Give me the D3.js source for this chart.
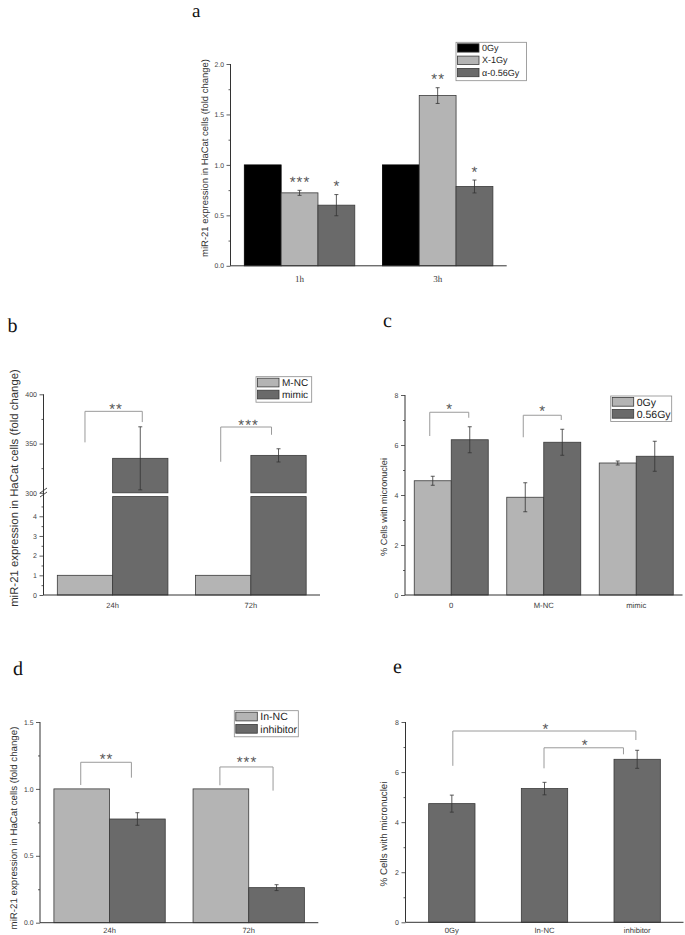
<!DOCTYPE html>
<html><head><meta charset="utf-8">
<script src="https://cdn.jsdelivr.net/npm/d3@7"></script>
<style>body{margin:0;background:#fff}svg{display:block}text{text-rendering:geometricPrecision}</style>
</head><body>
<script>
// ================= DATA =================
// Panel a
const aCategories = ["1h", "3h"];
const aSeriesNames = ["0Gy", "X-1Gy", "α-0.56Gy"];
const a0Gy = [1.0, 1.0];
const aX1Gy = [0.723, 1.687];
const aX1GyErr = [0.025, 0.078];
const aX1GyStars = ["***", "**"];
const aAlpha = [0.601, 0.786];
const aAlphaErr = [0.105, 0.064];
const aAlphaStars = ["*", "*"];
const aYTicks = [0, 0.5, 1.0, 1.5, 2.0];
const aYMinor = [0.25, 0.75, 1.25, 1.75];
const aYTitle = "miR-21 expression in HaCat cells (fold change)";

// Panel b (broken axis)
const bCategories = ["24h", "72h"];
const bSeriesNames = ["M-NC", "mimic"];
const bMNC = [1, 1];
const bMimic = [335, 338];
const bMimicErr = [32, 6.7];
const bStars = ["**", "***"];
const bLowerTicks = [0, 1, 2, 3, 4];
const bLowerMinor = [0.5, 1.5, 2.5, 3.5, 4.5];
const bUpperTicks = [300, 350, 400];
const bUpperMinor = [325, 375];
const bYTitle = "miR-21 expression in HaCat cells (fold change)";

// Panel c
const cCategories = ["0", "M-NC", "mimic"];
const cSeriesNames = ["0Gy", "0.56Gy"];
const c0Gy = [4.57, 3.91, 5.28];
const c0GyErr = [0.18, 0.58, 0.08];
const c056Gy = [6.21, 6.11, 5.55];
const c056GyErr = [0.52, 0.52, 0.60];
const cStars = ["*", "*", ""];
const cYTicks = [0, 2, 4, 6, 8];
const cYMinor = [1, 3, 5, 7];
const cYTitle = "% Cells with micronuclei";

// Panel d
const dCategories = ["24h", "72h"];
const dSeriesNames = ["In-NC", "inhibitor"];
const dInNC = [1, 1];
const dInhibitor = [0.775, 0.262];
const dInhibitorErr = [0.047, 0.022];
const dStars = ["**", "***"];
const dYTicks = [0, 0.5, 1.0, 1.5];
const dYMinor = [0.25, 0.75, 1.25];
const dYTitle = "miR-21 expression in HaCat cells (fold change)";

// Panel e
const eCategories = ["0Gy", "In-NC", "inhibitor"];
const eValues = [4.74, 5.34, 6.51];
const eErr = [0.34, 0.25, 0.36];
const eComparisons = [["0Gy", "inhibitor", "*"], ["In-NC", "inhibitor", "*"]];
const eYTicks = [0, 2, 4, 6, 8];
const eYMinor = [1, 3, 5, 7];
const eYTitle = "% Cells with micronuclei";

// ================= STYLE / LAYOUT =================
const SANS = "'Liberation Sans', Arial, sans-serif";
const SERIF = "'Liberation Serif', 'Times New Roman', serif";
const COL = {black: "#000", light: "#b4b4b4", dark: "#6a6a6a", axis: "#333", text: "#444",
             bracket: "#9a9a9a", star: "#555", outline: "#3a3a3a"};

const svg = d3.select("body").append("svg")
  .attr("width", 685).attr("height", 935)
  .style("font-family", SANS);

function yAxis(scale, x, major, minor, fmt, fs) {
  const g = svg.append("g").attr("transform", `translate(${x},0)`)
    .call(d3.axisLeft(scale).tickValues(major).tickSize(4).tickSizeOuter(0).tickPadding(2.5).tickFormat(fmt));
  g.select(".domain").remove();
  g.selectAll("line").attr("stroke", COL.axis).attr("stroke-width", 0.8);
  g.selectAll("text").attr("font-size", fs).attr("fill", COL.text).attr("font-family", SANS);
  const gm = svg.append("g").attr("transform", `translate(${x},0)`)
    .call(d3.axisLeft(scale).tickValues(minor).tickSize(2).tickSizeOuter(0).tickFormat(""));
  gm.select(".domain").remove();
  gm.selectAll("line").attr("stroke", COL.axis).attr("stroke-width", 0.8);
}
function axesLines(x0, x1, yTop, yBottom) {
  svg.append("line").attr("x1", x0).attr("x2", x0).attr("y1", yTop).attr("y2", yBottom)
    .attr("stroke", COL.axis).attr("stroke-width", 1);
  svg.append("line").attr("x1", x0).attr("x2", x1).attr("y1", yBottom).attr("y2", yBottom)
    .attr("stroke", COL.axis).attr("stroke-width", 1);
}
function yTitle(txt, xc, cy, len) {
  const fs0 = 10;
  const t = svg.append("text").attr("text-anchor", "middle").attr("fill", "#333")
    .attr("font-size", fs0).text(txt);
  const L = t.node().getComputedTextLength();
  const fs = fs0 * len / L;
  t.attr("font-size", fs).attr("transform", `translate(${xc + 0.36 * fs},${cy}) rotate(-90)`);
}
function panelLetter(ch, x, y, fs) {
  svg.append("text").attr("x", x).attr("y", y).attr("font-family", SERIF)
    .attr("font-size", fs || 20).attr("fill", "#111").text(ch);
}
function xLabels(scale, cats, y, fs, family) {
  svg.append("g").selectAll("text").data(cats).join("text")
    .attr("x", d => scale(d)).attr("y", y).attr("text-anchor", "middle")
    .attr("font-size", fs).attr("font-family", family).attr("fill", "#3a3a3a").text(d => d);
}
function errBar(x, yHi, yLo, cap) {
  const g = svg.append("g").attr("stroke", "#333").attr("stroke-width", 0.8);
  g.append("line").attr("x1", x).attr("x2", x).attr("y1", yHi).attr("y2", yLo);
  g.append("line").attr("x1", x - cap).attr("x2", x + cap).attr("y1", yHi).attr("y2", yHi);
  g.append("line").attr("x1", x - cap).attr("x2", x + cap).attr("y1", yLo).attr("y2", yLo);
}
function stars(txt, x, cy, fs) {
  if (!txt) return;
  const ls = 1;
  svg.append("text").attr("x", x + ls / 2).attr("y", cy + 0.575 * fs).attr("text-anchor", "middle")
    .attr("font-size", fs).attr("letter-spacing", ls).attr("fill", COL.star).text(txt);
}
function bracket(xl, xr, yTop, yLeft, yRight) {
  svg.append("path").attr("d", `M${xl},${yLeft}V${yTop}H${xr}V${yRight}`)
    .attr("fill", "none").attr("stroke", COL.bracket).attr("stroke-width", 1);
}
function legend(x, y, w, rows, pitch, swW, swH, fs) {
  const h = rows.length * pitch + 1.5;
  svg.append("rect").attr("x", x).attr("y", y).attr("width", w).attr("height", h)
    .attr("fill", "#fff").attr("stroke", "#8a8a8a").attr("stroke-width", 0.8);
  const g = svg.append("g").selectAll("g").data(rows).join("g")
    .attr("transform", (d, i) => `translate(${x + 1.5},${y + 1.5 + i * pitch})`);
  g.append("rect").attr("width", swW).attr("height", swH).attr("fill", d => d.color)
    .attr("stroke", COL.outline).attr("stroke-width", 0.8);
  g.append("text").attr("x", swW + 3).attr("y", swH / 2 + fs * 0.36).attr("font-size", fs)
    .attr("fill", "#222").text(d => d.name);
}
const STAR_FS = 15;

// ================= PANEL a =================
{
  const x0 = 230.5, x1 = 506.7, yB = 265.8, yT = 64;
  const y = d3.scaleLinear().domain([0, 2]).range([yB, yT]);
  const xc = d3.scalePoint().domain(aCategories).range([x0, x1]).padding(0.5);
  const gw = xc.step() * 0.8;
  const xs = d3.scaleBand().domain(aSeriesNames).range([-gw / 2, gw / 2]);
  const series = [
    {name: aSeriesNames[0], vals: a0Gy, err: null, st: null, color: COL.black},
    {name: aSeriesNames[1], vals: aX1Gy, err: aX1GyErr, st: aX1GyStars, color: COL.light},
    {name: aSeriesNames[2], vals: aAlpha, err: aAlphaErr, st: aAlphaStars, color: COL.dark}
  ];
  series.forEach(s => {
    aCategories.forEach((c, i) => {
      const bx = xc(c) + xs(s.name), v = s.vals[i];
      svg.append("rect").attr("x", bx).attr("y", y(v)).attr("width", xs.bandwidth())
        .attr("height", y(0) - y(v)).attr("fill", s.color)
        .attr("stroke", s.color === COL.black ? "#000" : COL.outline).attr("stroke-width", 0.8);
      if (s.err) {
        const cx = bx + xs.bandwidth() / 2;
        errBar(cx, y(v + s.err[i]), y(v - s.err[i]), 2);
        stars(s.st[i], cx, y(v + s.err[i]) - 12, STAR_FS);
      }
    });
  });
  axesLines(x0, x1, yT, yB);
  yAxis(y, x0, aYTicks, aYMinor, d3.format(".1f"), 6.8);
  xLabels(xc, aCategories, 281.5, 9, SERIF);
  yTitle(aYTitle, 205, 158, 198);
  legend(456, 42.3, 70.5, series, 12.3, 21.5, 8.3, 9);
  panelLetter("a", 192, 16.5, 19);
}

// ================= PANEL b =================
{
  const x0 = 43.5, x1 = 320, yB = 595;
  const yLo = d3.scaleLinear().domain([0, 5]).range([yB, 496.6]);
  const yHi = d3.scaleLinear().domain([300, 400]).range([492.8, 394.3]);
  const xc = d3.scalePoint().domain(bCategories).range([x0, x1]).padding(0.5);
  const gw = xc.step() * 0.8;
  const xs = d3.scaleBand().domain(bSeriesNames).range([-gw / 2, gw / 2]);
  const series = [
    {name: bSeriesNames[0], vals: bMNC, err: null, color: COL.light},
    {name: bSeriesNames[1], vals: bMimic, err: bMimicErr, color: COL.dark}
  ];
  series.forEach(s => {
    bCategories.forEach((c, i) => {
      const bx = xc(c) + xs(s.name), v = s.vals[i], bw = xs.bandwidth();
      if (v <= 5) {
        svg.append("rect").attr("x", bx).attr("y", yLo(v)).attr("width", bw)
          .attr("height", yLo(0) - yLo(v)).attr("fill", s.color).attr("stroke", COL.outline).attr("stroke-width", 0.8);
      } else {
        svg.append("rect").attr("x", bx).attr("y", yLo(5)).attr("width", bw)
          .attr("height", yLo(0) - yLo(5)).attr("fill", s.color).attr("stroke", COL.outline).attr("stroke-width", 0.8);
        svg.append("rect").attr("x", bx).attr("y", yHi(v)).attr("width", bw)
          .attr("height", yHi(300) - yHi(v)).attr("fill", s.color).attr("stroke", COL.outline).attr("stroke-width", 0.8);
        if (s.err) errBar(bx + bw / 2, yHi(v + s.err[i]), yHi(v - s.err[i]), 2);
      }
    });
  });
  // brackets (levels in data units of the upper segment)
  const bBr = [{top: 382.7, l: 351.2, r: 371.8, st: 388.4, dl: 0, dr: 2},
               {top: 366.8, l: 331.5, r: 358.9, st: 372.9, dl: -2.5, dr: -7}];
  bCategories.forEach((c, i) => {
    const xl = xc(c) + xs(bSeriesNames[0]) + xs.bandwidth() / 2 + bBr[i].dl;
    const xr = xc(c) + xs(bSeriesNames[1]) + xs.bandwidth() / 2 + bBr[i].dr;
    bracket(xl, xr, yHi(bBr[i].top), yHi(bBr[i].l), yHi(bBr[i].r));
    stars(bStars[i], (xl + xr) / 2 + 2, yHi(bBr[i].st), STAR_FS);
  });
  axesLines(x0, x1, yHi(400), yB);
  yAxis(yLo, x0, bLowerTicks, bLowerMinor, d3.format("d"), 7);
  yAxis(yHi, x0, bUpperTicks, bUpperMinor, d3.format("d"), 7);
  // break marks
  [490.5, 494.5].forEach(yy => {
    svg.append("line").attr("x1", x0 - 3.5).attr("x2", x0 + 3.5).attr("y1", yy + 2.5).attr("y2", yy - 2.5)
      .attr("stroke", COL.axis).attr("stroke-width", 0.9);
  });
  xLabels(xc, bCategories, 607.5, 7.5, SANS);
  yTitle(bYTitle, 13.5, 488, 238);
  legend(256, 376.7, 55.7, series.map(s => ({name: s.name, color: s.color})), 12, 21.5, 8.7, 10);
  panelLetter("b", 7.5, 331.7);
}

// ================= PANEL c =================
{
  const x0 = 405, x1 = 682.5, yB = 595, yT = 395;
  const y = d3.scaleLinear().domain([0, 8]).range([yB, yT]);
  const xc = d3.scalePoint().domain(cCategories).range([x0, x1]).padding(0.5);
  const gw = xc.step() * 0.8;
  const xs = d3.scaleBand().domain(cSeriesNames).range([-gw / 2, gw / 2]);
  const series = [
    {name: cSeriesNames[0], vals: c0Gy, err: c0GyErr, color: COL.light},
    {name: cSeriesNames[1], vals: c056Gy, err: c056GyErr, color: COL.dark}
  ];
  series.forEach(s => {
    cCategories.forEach((c, i) => {
      const bx = xc(c) + xs(s.name), v = s.vals[i], bw = xs.bandwidth();
      svg.append("rect").attr("x", bx).attr("y", y(v)).attr("width", bw)
        .attr("height", y(0) - y(v)).attr("fill", s.color).attr("stroke", COL.outline).attr("stroke-width", 0.8);
      errBar(bx + bw / 2, y(v + s.err[i]), y(v - s.err[i]), 2);
    });
  });
  const cBr = [{top: 7.31, l: 6.36, r: 7.09, st: 7.6, dl: -3, dr: -1},
               {top: 7.19, l: 6.31, r: 7.0, st: 7.49, dl: -2, dr: -1}];
  cCategories.forEach((c, i) => {
    if (!cStars[i]) return;
    const xl = xc(c) + xs(cSeriesNames[0]) + xs.bandwidth() / 2 + cBr[i].dl;
    const xr = xc(c) + xs(cSeriesNames[1]) + xs.bandwidth() / 2 + cBr[i].dr;
    bracket(xl, xr, y(cBr[i].top), y(cBr[i].l), y(cBr[i].r));
    stars(cStars[i], (xl + xr) / 2, y(cBr[i].st), STAR_FS);
  });
  axesLines(x0, x1, yT, yB);
  yAxis(y, x0, cYTicks, cYMinor, d3.format("d"), 7);
  xLabels(xc, cCategories, 607.5, 7.7, SANS);
  yTitle(cYTitle, 383.5, 507, 98);
  legend(610.7, 396, 61, series.map(s => ({name: s.name, color: s.color})), 12, 21.5, 8.7, 10.5);
  panelLetter("c", 383, 327.3);
}

// ================= PANEL d =================
{
  const x0 = 40, x1 = 318.3, yB = 922.7, yT = 722;
  const y = d3.scaleLinear().domain([0, 1.5]).range([yB, yT]);
  const xc = d3.scalePoint().domain(dCategories).range([x0, x1]).padding(0.5);
  const gw = xc.step() * 0.8;
  const xs = d3.scaleBand().domain(dSeriesNames).range([-gw / 2, gw / 2]);
  const series = [
    {name: dSeriesNames[0], vals: dInNC, err: null, color: COL.light},
    {name: dSeriesNames[1], vals: dInhibitor, err: dInhibitorErr, color: COL.dark}
  ];
  series.forEach(s => {
    dCategories.forEach((c, i) => {
      const bx = xc(c) + xs(s.name), v = s.vals[i], bw = xs.bandwidth();
      svg.append("rect").attr("x", bx).attr("y", y(v)).attr("width", bw)
        .attr("height", y(0) - y(v)).attr("fill", s.color).attr("stroke", COL.outline).attr("stroke-width", 0.8);
      if (s.err) errBar(bx + bw / 2, y(v + s.err[i]), y(v - s.err[i]), 2);
    });
  });
  const dBr = [{top: 1.199, l: 1.029, r: 1.084, st: 1.253, dl: -1, dr: -6},
               {top: 1.164, l: 1.027, r: 0.987, st: 1.229, dl: -1, dr: -3.5}];
  dCategories.forEach((c, i) => {
    const xl = xc(c) + xs(dSeriesNames[0]) + xs.bandwidth() / 2 + dBr[i].dl;
    const xr = xc(c) + xs(dSeriesNames[1]) + xs.bandwidth() / 2 + dBr[i].dr;
    bracket(xl, xr, y(dBr[i].top), y(dBr[i].l), y(dBr[i].r));
    stars(dStars[i], (xl + xr) / 2, y(dBr[i].st), STAR_FS);
  });
  axesLines(x0, x1, yT, yB);
  yAxis(y, x0, dYTicks, dYMinor, d3.format(".1f"), 6.8);
  xLabels(xc, dCategories, 933.3, 7.5, SANS);
  yTitle(dYTitle, 13.5, 828, 203);
  legend(234.3, 710.7, 64, series.map(s => ({name: s.name, color: s.color})), 12.3, 21.5, 8.7, 10.5);
  panelLetter("d", 13, 675);
}

// ================= PANEL e =================
{
  const x0 = 405.5, x1 = 683.5, yB = 922.3, yT = 722;
  const y = d3.scaleLinear().domain([0, 8]).range([yB, yT]);
  const xc = d3.scalePoint().domain(eCategories).range([x0, x1]).padding(0.5);
  const bw = xc.step() * 0.5;
  eCategories.forEach((c, i) => {
    const v = eValues[i];
    svg.append("rect").attr("x", xc(c) - bw / 2).attr("y", y(v)).attr("width", bw)
      .attr("height", y(0) - y(v)).attr("fill", COL.dark).attr("stroke", COL.outline).attr("stroke-width", 0.8);
    errBar(xc(c), y(v + eErr[i]), y(v - eErr[i]), 2);
  });
  const eBr = [{top: 7.64, l: 6.25, r: 7.28, st: 7.87, dl: 1, dr: -1.3},
               {top: 6.97, l: 6.15, r: 6.71, st: 7.24, dl: -0.5, dr: -13.7}];
  eComparisons.forEach((cmp, i) => {
    const xl = xc(cmp[0]) + eBr[i].dl, xr = xc(cmp[1]) + eBr[i].dr;
    bracket(xl, xr, y(eBr[i].top), y(eBr[i].l), y(eBr[i].r));
    stars(cmp[2], (xl + xr) / 2 + 1, y(eBr[i].st), STAR_FS);
  });
  axesLines(x0, x1, yT, yB);
  yAxis(y, x0, eYTicks, eYMinor, d3.format("d"), 7);
  xLabels(xc, eCategories, 933.3, 7.7, SANS);
  yTitle(eYTitle, 383.5, 834, 105);
  panelLetter("e", 393, 673.3);
}
</script>
</body></html>
